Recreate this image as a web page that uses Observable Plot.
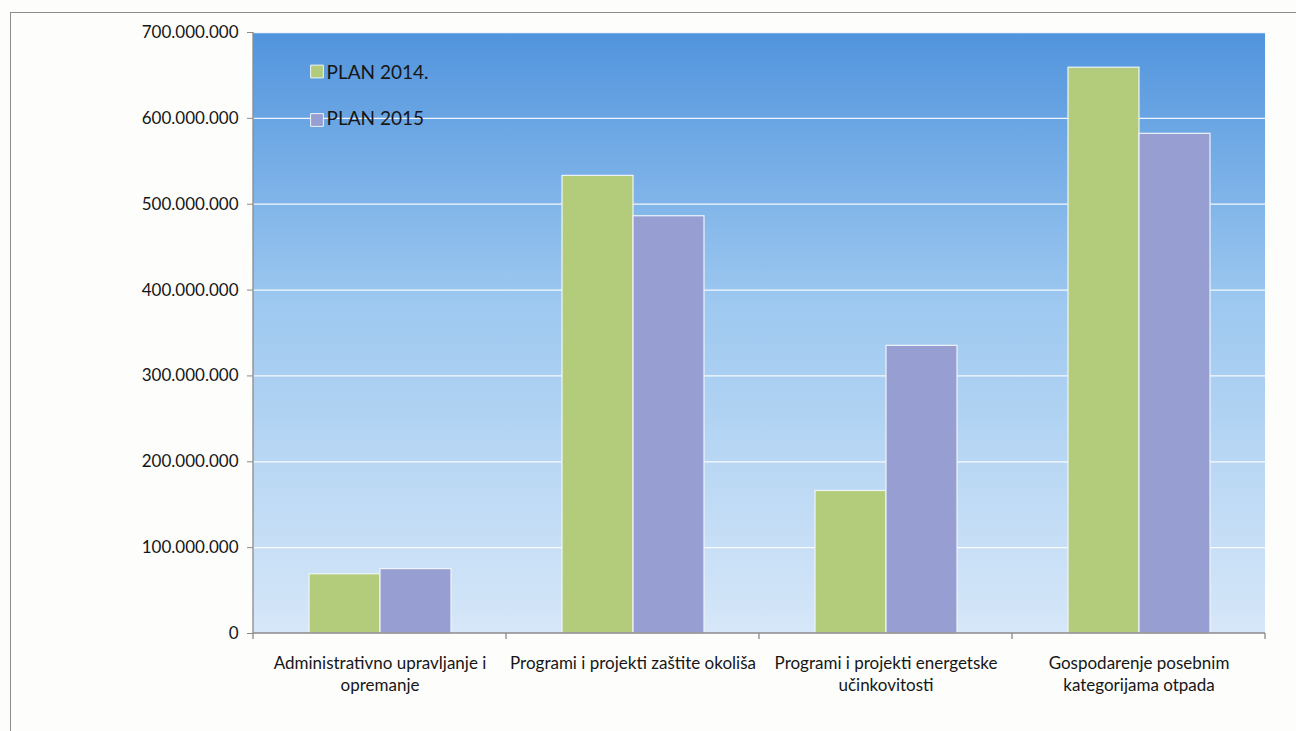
<!DOCTYPE html>
<html>
<head>
<meta charset="utf-8">
<script src="https://cdn.jsdelivr.net/npm/d3@7"></script>
<script src="https://cdn.jsdelivr.net/npm/@observablehq/plot@0.6"></script>
<style>
  html, body { margin: 0; padding: 0; background: #fdfdfc; }
  #wrap { position: relative; width: 1296px; height: 731px; overflow: hidden; }
  #page { position: absolute; left: 10px; top: 12px; right: -5px; bottom: -5px;
          border-top: 1.5px solid #8c8c8c; border-left: 1.5px solid #8c8c8c; pointer-events: none; }
  svg { display: block; }
</style>
</head>
<body>
<div id="wrap"><div id="page"></div></div>
<script>
// ---- data ----
const categories = [
  "Administrativno upravljanje i opremanje",
  "Programi i projekti zaštite okoliša",
  "Programi i projekti energetske učinkovitosti",
  "Gospodarenje posebnim kategorijama otpada"
];
const categoryLabels = [
  "Administrativno upravljanje i\nopremanje",
  "Programi i projekti zaštite okoliša",
  "Programi i projekti energetske\nučinkovitosti",
  "Gospodarenje posebnim\nkategorijama otpada"
];
const seriesNames = ["PLAN 2014.", "PLAN 2015"];
const plan2014 = [69000000, 533000000, 166000000, 659000000];
const plan2015 = [75000000, 486000000, 335000000, 582000000];
const yTicks = [0, 100000000, 200000000, 300000000, 400000000, 500000000, 600000000, 700000000];

const seriesColors = ["#b3cc7b", "#979ed2"];

const rows = categories.flatMap((c, i) => [
  {cat: c, series: seriesNames[0], value: plan2014[i]},
  {cat: c, series: seriesNames[1], value: plan2015[i]}
]);
const labelOf = new Map(categories.map((c, i) => [c, categoryLabels[i]]));
const fmt = d3.formatLocale({decimal: ",", thousands: ".", grouping: [3], currency: ["", ""]}).format(",");

const legendMarks = seriesNames.flatMap((s, i) => [
  Plot.dot([{cat: categories[0]}], {fx: "cat", frameAnchor: "top-left", dx: 63.5, dy: 39 + 48.5 * i,
    symbol: "square", r: 7.2, fill: seriesColors[i], stroke: "#eef2f8", strokeWidth: 1}),
  Plot.text([{cat: categories[0], label: s}], {fx: "cat", text: "label", frameAnchor: "top-left",
    dx: 73, dy: 40 + 46.5 * i, textAnchor: "start", lineAnchor: "middle", fontSize: 19, fill: "#161616"})
]);

const chart = Plot.plot({
  width: 1296, height: 731,
  marginLeft: 252, marginRight: 31, marginTop: 32, marginBottom: 98,
  style: {fontFamily: "Lato, 'Open Sans', sans-serif", fontSize: "17px", color: "#161616", background: "transparent"},
  fx: {domain: categories, padding: 0, label: null},
  x: {domain: seriesNames, paddingInner: 0, paddingOuter: 0.78, axis: null},
  y: {domain: [0, 700000000], axis: null},
  color: {domain: seriesNames, range: seriesColors},
  marks: [
    Plot.gridY(yTicks, {stroke: "white", strokeOpacity: 0.9, strokeWidth: 1.3}),
    Plot.barY(rows, {fx: "cat", x: "series", y: "value", fill: "series", stroke: "#eef3f8", strokeWidth: 1.2}),
    Plot.axisY(yTicks, {anchor: "left", tickFormat: fmt, tickSize: 6, tickPadding: 9, fontSize: 17,
      stroke: "#8a8a8a", label: null}),
    Plot.axisFx({anchor: "bottom", tickFormat: d => labelOf.get(d), tickSize: 0, tickPadding: 20,
      fontSize: 17, lineHeight: 1.3, label: null}),
    ...legendMarks
  ]
});

const svg = d3.select(chart);
const fxS = chart.scale("fx");
const yS = chart.scale("y");
const bw = fxS.bandwidth;
const bounds = fxS.domain.map(d => fxS.apply(d));
bounds.push(bounds[bounds.length - 1] + bw);
const y0 = yS.apply(0), yTop = yS.apply(700000000);

// gradient plot-area background (single rect, no facet seams)
const defs = svg.insert("defs", ":first-child");
const grad = defs.append("linearGradient").attr("id", "bgGrad")
  .attr("x1", 0).attr("y1", 0).attr("x2", 0).attr("y2", 1);
grad.append("stop").attr("offset", "0%").attr("stop-color", "#5194dd");
grad.append("stop").attr("offset", "45%").attr("stop-color", "#9dc8f0");
grad.append("stop").attr("offset", "100%").attr("stop-color", "#d6e7f8");
svg.insert("rect", "g")
  .attr("x", bounds[0]).attr("y", yTop)
  .attr("width", bounds[bounds.length - 1] - bounds[0]).attr("height", y0 - yTop)
  .attr("fill", "url(#bgGrad)");

// category axis line with boundary ticks, and value axis line
const g = svg.append("g").attr("stroke", "#8a8a8a").attr("stroke-width", 1.3).attr("fill", "none");
g.append("line").attr("x1", bounds[0]).attr("x2", bounds[bounds.length - 1]).attr("y1", y0).attr("y2", y0);
g.append("line").attr("x1", bounds[0]).attr("x2", bounds[0]).attr("y1", yTop).attr("y2", y0);
bounds.forEach(b => g.append("line").attr("x1", b).attr("x2", b).attr("y1", y0).attr("y2", y0 + 6));

document.getElementById("wrap").appendChild(chart);
</script>
</body>
</html>
